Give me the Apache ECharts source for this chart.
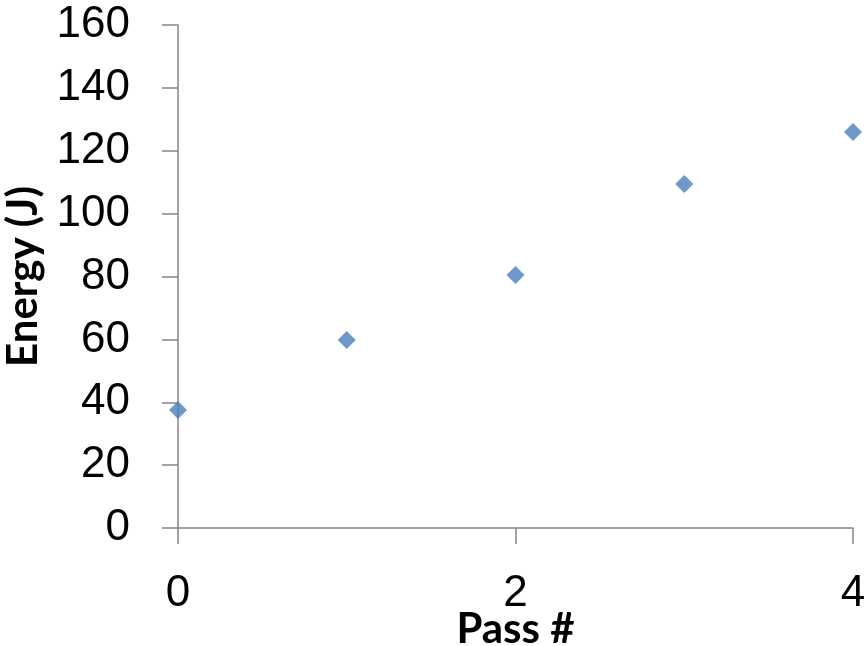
<!DOCTYPE html>
<html>
<head>
<meta charset="utf-8">
<script src="https://cdn.jsdelivr.net/npm/echarts@6/dist/echarts.min.js"></script>
<style>html,body{margin:0;padding:0;background:#fff}#c{width:867px;height:646px}</style>
</head>
<body>
<div id="c"></div>
<script>
var passes = [0, 1, 2, 3, 4];
var energy = [37.5, 59.8, 80.5, 109.4, 126.0];
var xTitle = 'Pass #';
var yTitle = 'Energy (J)';

var chart = echarts.init(document.getElementById('c'));
var axisColor = '#868686';
var font = 'Liberation Sans';
var titleFont = 'Lato';
chart.setOption({
  animation: false,
  backgroundColor: '#ffffff',
  grid: { left: 178, right: 14, top: 25, bottom: 118, containLabel: false, outerBoundsMode: 'none' },
  xAxis: {
    type: 'value', min: 0, max: 4, interval: 2,
    name: xTitle, nameLocation: 'middle', nameGap: 80, nameMoveOverlap: false,
    nameTextStyle: { fontFamily: titleFont, fontWeight: 'bold', fontSize: 42, color: '#000' },
    axisLine: { show: true, onZero: false, lineStyle: { color: axisColor, width: 1.5 } },
    axisTick: { show: true, length: 16, lineStyle: { color: axisColor, width: 1.5 } },
    axisLabel: { fontFamily: font, fontSize: 44, color: '#000', margin: 44 },
    splitLine: { show: false }
  },
  yAxis: {
    type: 'value', min: 0, max: 160, interval: 20,
    name: yTitle, nameLocation: 'middle', nameGap: 134, nameRotate: 90, nameMoveOverlap: false,
    nameTextStyle: { fontFamily: titleFont, fontWeight: 'bold', fontSize: 42, color: '#000' },
    axisLine: { show: true, lineStyle: { color: axisColor, width: 1.5 } },
    axisTick: { show: true, length: 16, lineStyle: { color: axisColor, width: 1.5 } },
    axisLabel: { fontFamily: font, fontSize: 44, color: '#000', margin: 48 },
    splitLine: { show: false }
  },
  series: [{
    type: 'scatter',
    symbol: 'diamond',
    symbolSize: 18,
    itemStyle: { color: '#4A7EBB' },
    data: passes.map(function (p, i) { return [p, energy[i]]; })
  }]
});
</script>
</body>
</html>
